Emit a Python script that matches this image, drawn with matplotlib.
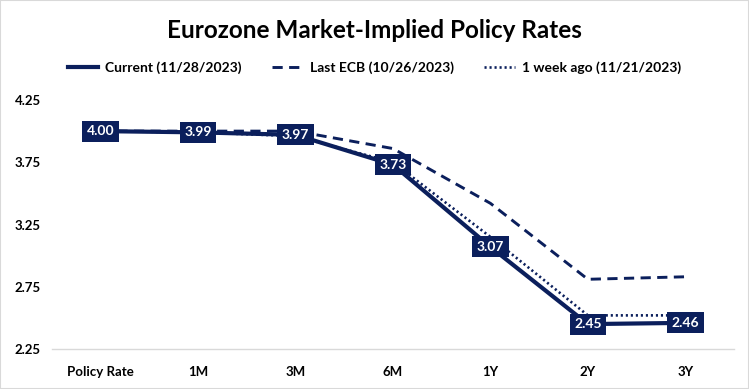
import numpy as np
import matplotlib.pyplot as plt
from matplotlib.patches import Rectangle

categories = ['Policy Rate', '1M', '3M', '6M', '1Y', '2Y', '3Y']
current = [4.00, 3.99, 3.97, 3.73, 3.07, 2.45, 2.46]
last_ecb = [4.00, 4.00, 4.00, 3.86, 3.42, 2.81, 2.83]
week_ago = [4.00, 3.99, 3.96, 3.75, 3.15, 2.52, 2.52]
yticks = [2.25, 2.75, 3.25, 3.75, 4.25]

navy = '#0b1f5c'
plt.rcParams['font.family'] = ['Lato', 'DejaVu Sans']

fig = plt.figure(figsize=(7.49, 3.89), dpi=100)
ax = fig.add_axes([52 / 749, 40 / 389, 682 / 749, 249 / 389])

x = np.arange(len(categories))
ax.plot(x, last_ecb, color=navy, lw=2.1, ls=(0, (3.5, 2.2)), label='Last ECB (10/26/2023)')
ax.plot(x, week_ago, color=navy, lw=1.9, ls=(0, (0.8, 1.1)), label='1 week ago (11/21/2023)')
ax.plot(x, current, color=navy, lw=3.0, label='Current (11/28/2023)', zorder=3)

for xi, v in zip(x, current):
    ax.text(xi, v, f'{v:.2f}', ha='center', va='center', color='white',
            fontsize=10, fontweight='bold', zorder=4,
            bbox=dict(boxstyle='square,pad=0.32', fc=navy, ec='none'))

ax.set_xlim(-0.5, len(categories) - 0.5)
ax.set_ylim(2.25, 4.25)
ax.set_xticks(x)
ax.set_xticklabels(categories, fontsize=9.5, fontweight='bold')
ax.set_yticks(yticks)
ax.set_yticklabels([f'{t:.2f}' for t in yticks], fontsize=9.5, fontweight='bold')
ax.tick_params(length=0, pad=12)
ax.tick_params(axis='y', pad=8)
for s in ['top', 'right', 'left']:
    ax.spines[s].set_visible(False)
ax.spines['bottom'].set_color('#d9d9d9')
ax.spines['bottom'].set_linewidth(1)

handles, labels = ax.get_legend_handles_labels()
order = [2, 0, 1]
fig.legend([handles[i] for i in order], [labels[i] for i in order],
           loc='center', bbox_to_anchor=(0.5, 1 - 68 / 389), ncol=3, frameon=False,
           prop={'size': 10, 'weight': 'bold'}, handlelength=2.2, columnspacing=2.2,
           handletextpad=0.5)

fig.text(0.5, 1 - 30 / 389, 'Eurozone Market-Implied Policy Rates', ha='center', va='center',
         fontsize=17.5, fontweight='bold')

fig.patches.append(Rectangle((0, 0), 1, 1, transform=fig.transFigure, fill=False,
                             ec='#d9d9d9', lw=1.5))

fig.savefig('out.png', dpi=100)
